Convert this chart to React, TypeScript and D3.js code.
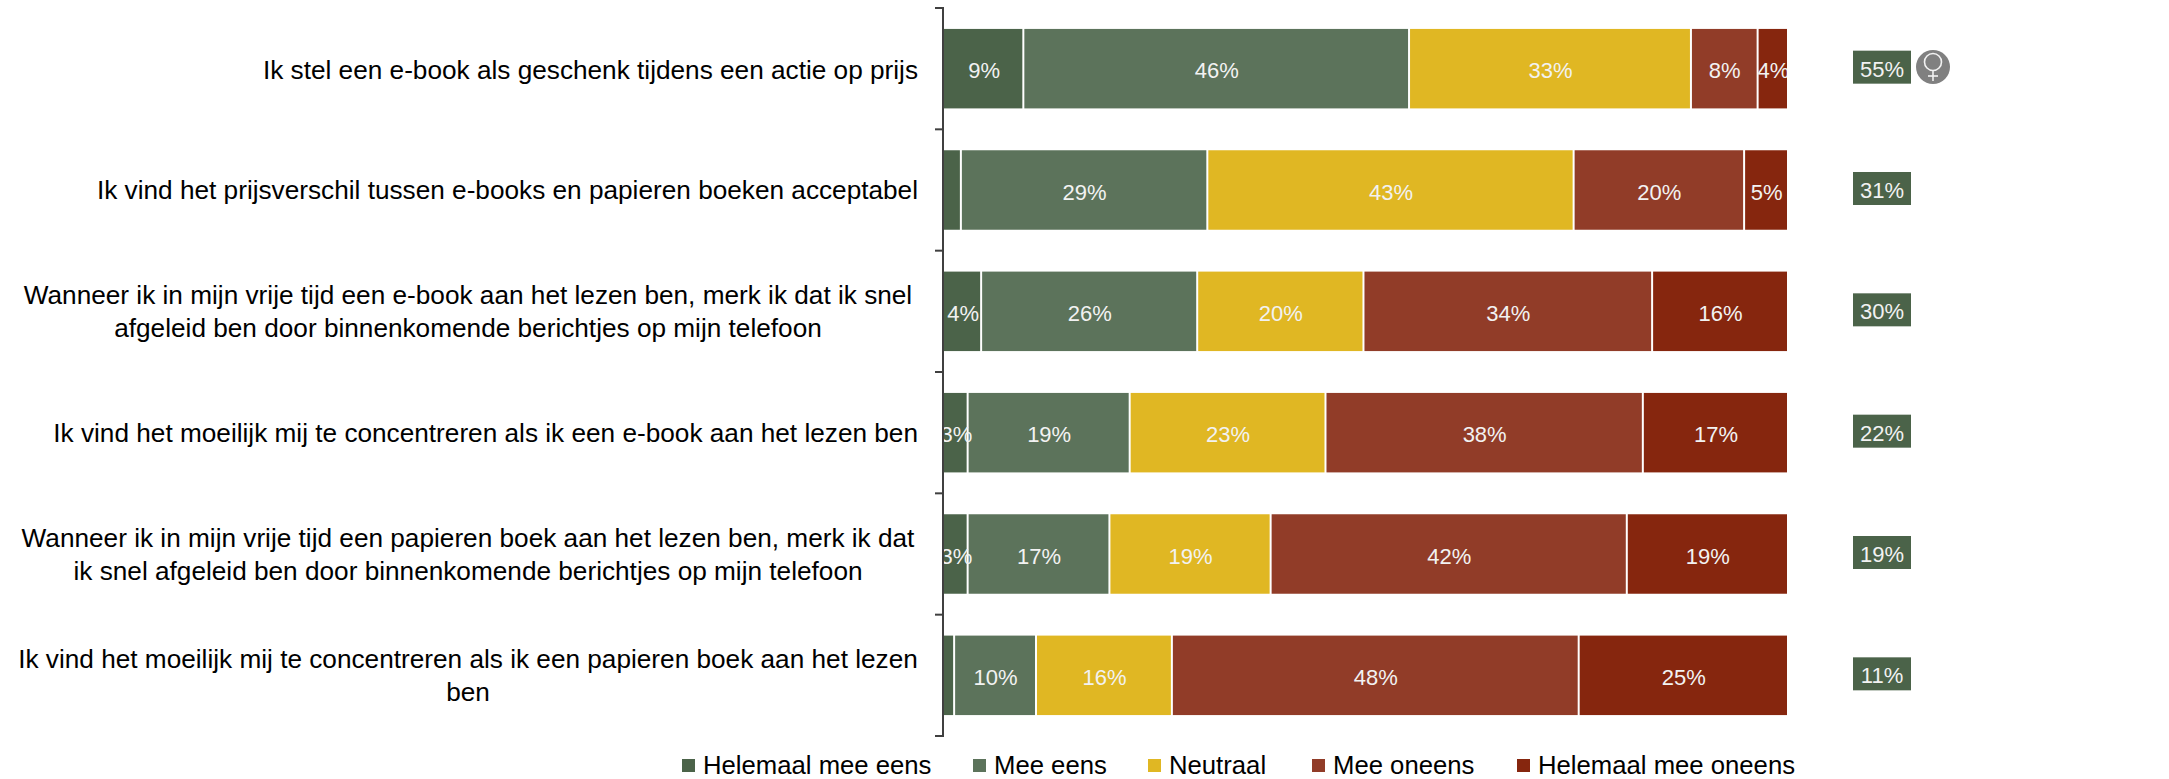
import React from "react";
import * as d3 from "d3";

const categories = [
  ["Ik stel een e-book als geschenk tijdens een actie op prijs"],
  ["Ik vind het prijsverschil tussen e-books en papieren boeken acceptabel"],
  ["Wanneer ik in mijn vrije tijd een e-book aan het lezen ben, merk ik dat ik snel", "afgeleid ben door binnenkomende berichtjes op mijn telefoon"],
  ["Ik vind het moeilijk mij te concentreren als ik een e-book aan het lezen ben"],
  ["Wanneer ik in mijn vrije tijd een papieren boek aan het lezen ben, merk ik dat", "ik snel afgeleid ben door binnenkomende berichtjes op mijn telefoon"],
  ["Ik vind het moeilijk mij te concentreren als ik een papieren boek aan het lezen", "ben"],
];
const seriesNames = ["Helemaal mee eens", "Mee eens", "Neutraal", "Mee oneens", "Helemaal mee oneens"];
const stronglyAgree = [9.4, 2.0, 4.4, 2.8, 2.8, 1.2];
const agree = [45.7, 29.2, 25.6, 19.2, 16.8, 9.7];
const neutral = [33.4, 43.4, 19.7, 23.2, 19.1, 16.1];
const disagree = [7.9, 20.2, 34.2, 37.6, 42.2, 48.2];
const stronglyDisagree = [3.6, 5.2, 16.1, 17.2, 19.1, 24.8];
const topTwo = [55, 31, 30, 22, 19, 11];
const colors = ["#4B6349", "#5C735B", "#E0B723", "#913C28", "#86260E"];

const FONT = "'Liberation Sans', Arial, sans-serif";
const seriesValues = [stronglyAgree, agree, neutral, disagree, stronglyDisagree];
const rows = categories.map((_, i) => {
  const r: Record<string, number> = { i };
  seriesNames.forEach((n, k) => (r[n] = seriesValues[k][i]));
  return r;
});

export default function App() {
  const x = d3.scaleLinear().domain([0, 100]).range([943, 1787]);
  const y = d3.scaleBand<number>().domain(d3.range(6)).range([8, 736]).paddingInner(0.345).paddingOuter(0.1725);
  const stack = d3.stack<Record<string, number>>().keys(seriesNames)(rows);
  const tickYs = d3.range(7).map((i) => 8 + i * y.step());
  const legendSquareX = [682, 973, 1148, 1312, 1517];
  return (
    <svg width={2169} height={779} style={{ position: "absolute", left: 0, top: 0, background: "#fff" }} fontFamily={FONT}>
      <defs>
        <clipPath id="plot">
          <rect x={943} y={0} width={844} height={779} />
        </clipPath>
      </defs>
      {stack.map((s, k) =>
        s.map((d, i) => {
          const x0 = x(d[0]) + (k === 0 ? 0 : 2);
          const x1 = x(d[1]);
          return <rect key={`${k}-${i}`} x={x0} y={y(i)} width={Math.max(0, x1 - x0)} height={y.bandwidth()} fill={colors[k]} />;
        })
      )}
      <g clipPath="url(#plot)">
        {stack.map((s, k) =>
          s.map((d, i) => {
            const v = d[1] - d[0];
            if (v < 2.5) return null;
            return (
              <text
                key={`${k}-${i}`}
                x={(x(d[0]) + x(d[1])) / 2 + 1.5}
                y={y(i)! + y.bandwidth() / 2 + 9.5}
                textAnchor="middle"
                fontSize={22}
                fill="#F2F2F2"
              >
                {Math.round(v)}%
              </text>
            );
          })
        )}
      </g>
      <line x1={943} x2={943} y1={7} y2={737} stroke="#404040" strokeWidth={2} />
      {tickYs.map((t, i) => (
        <line key={i} x1={935} x2={943} y1={t} y2={t} stroke="#404040" strokeWidth={2} />
      ))}
      {categories.map((lines, i) => {
        const cy = y(i)! + y.bandwidth() / 2;
        const single = lines.length === 1;
        const blockCenter = 468;
        return (
          <g key={i}>
            {lines.map((l, j) => (
              <text
                key={j}
                x={single ? 918 : blockCenter}
                y={cy + 9 + (j - (lines.length - 1) / 2) * 33 + (i === 0 ? 1 : 0)}
                textAnchor={single ? "end" : "middle"}
                fontSize={26.2}
                fill="#000"
              >
                {l}
              </text>
            ))}
          </g>
        );
      })}
      {topTwo.map((v, i) => {
        const cy = y(i)! + y.bandwidth() / 2;
        return (
          <g key={i}>
            <rect x={1853} y={cy - 18} width={58} height={33} fill={colors[0]} />
            <text x={1882} y={cy + 8} textAnchor="middle" fontSize={22} fill="#F2F2F2">
              {v}%
            </text>
          </g>
        );
      })}
      <g>
        <circle cx={1933} cy={67} r={17} fill="#808080" />
        <circle cx={1933} cy={62} r={8.5} fill="none" stroke="#F2F2F2" strokeWidth={1.6} />
        <line x1={1933} x2={1933} y1={70.5} y2={81} stroke="#F2F2F2" strokeWidth={1.6} />
        <line x1={1928} x2={1938} y1={76} y2={76} stroke="#F2F2F2" strokeWidth={1.6} />
      </g>
      {seriesNames.map((n, k) => (
        <g key={n}>
          <rect x={legendSquareX[k]} y={759} width={13} height={13} fill={colors[k]} />
          <text x={legendSquareX[k] + 21} y={774} fontSize={25.7} fill="#000">
            {n}
          </text>
        </g>
      ))}
    </svg>
  );
}
